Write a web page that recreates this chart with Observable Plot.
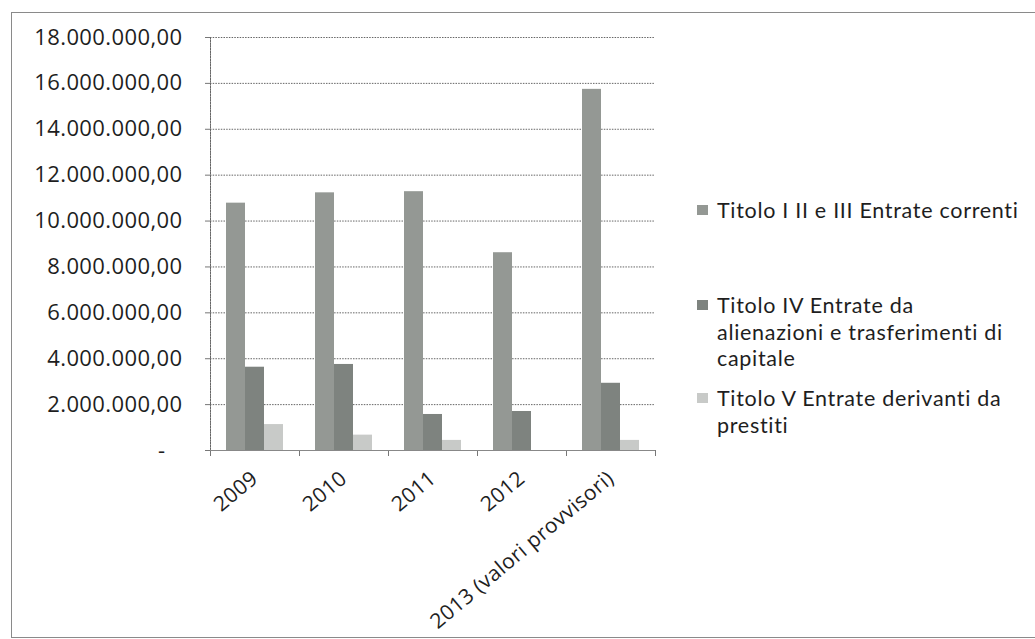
<!DOCTYPE html>
<html><head><meta charset="utf-8">
<script src="https://cdn.jsdelivr.net/npm/d3@7"></script>
<script src="https://cdn.jsdelivr.net/npm/@observablehq/plot@0.6"></script>
<style>
body{margin:0;background:#fff;font-family:"Open Sans",Lato,sans-serif;}
#frame{position:absolute;left:11px;top:12px;width:1040px;height:624px;border:1px solid #8a8a8a;}
#chart{position:absolute;left:0;top:0;}
.leg{position:absolute;left:697px;font-family:Lato,"Open Sans",sans-serif;font-size:21.5px;letter-spacing:0.7px;color:#1e1e1e;line-height:26.5px;white-space:nowrap;}
.leg .sw{position:absolute;left:0;top:8px;width:11px;height:10px;}
.leg .tx{margin-left:20px;}
</style></head><body>
<div id="frame"></div>
<div id="chart"></div>
<div id="legend"></div>
<script>
const years = ["2009", "2010", "2011", "2012", "2013 (valori provvisori)"];
const series = [
  "Titolo I II e III Entrate correnti",
  "Titolo IV Entrate da alienazioni e trasferimenti di capitale",
  "Titolo V Entrate derivanti da prestiti"
];
const entrateCorrenti    = [10780000, 11230000, 11280000, 8620000, 15740000];
const entrateAlienazioni = [3630000, 3750000, 1570000, 1700000, 2930000];
const entratePrestiti    = [1130000, 670000, 440000, 0, 440000];
const yTicks = [0, 2000000, 4000000, 6000000, 8000000, 10000000, 12000000, 14000000, 16000000, 18000000];
const colors = ["#949894", "#7e837f", "#c8cac8"];
const legendLines = [
  ["Titolo I II e III Entrate correnti"],
  ["Titolo IV Entrate da", "alienazioni e trasferimenti di", "capitale"],
  ["Titolo V Entrate derivanti da", "prestiti"]
];
const legendTops = [197, 292, 385];

const valuesBySeries = [entrateCorrenti, entrateAlienazioni, entratePrestiti];
const data = [];
years.forEach((y, i) => series.forEach((s, j) => data.push({year: y, series: s, value: valuesBySeries[j][i]})));

const loc = d3.formatLocale({decimal: ",", thousands: ".", grouping: [3], currency: ["", "€"]});
const fmt = loc.format(",.2f");
const tickFormat = d => d === 0 ? "-\u2007\u2009" : fmt(d);

const font = "'Open Sans', Lato, sans-serif";
const chart = Plot.plot({
  width: 680,
  height: 639,
  marginLeft: 210,
  marginRight: 25,
  marginTop: 37,
  marginBottom: 189,
  style: {fontFamily: font, background: "transparent", color: "#222", letterSpacing: "0.4px"},
  fx: {domain: years, padding: 0, label: null, axis: null},
  x: {domain: series, paddingInner: 0, paddingOuter: 0.78, axis: null},
  y: {domain: [0, 18000000], label: null},
  color: {domain: series, range: colors},
  marks: [
    Plot.gridY(yTicks, {stroke: "#555", strokeOpacity: 0.9, strokeDasharray: "1.5,1.2"}),
    Plot.frame({anchor: "left", facetAnchor: "left", stroke: "#666", strokeDasharray: "1.5,1.2"}),
    Plot.frame({anchor: "left", insetTop: 413, insetBottom: -5, stroke: "#777"}),
    Plot.frame({anchor: "right", facetAnchor: "right", insetTop: 413, insetBottom: -5, stroke: "#777"}),
    Plot.ruleY([0], {stroke: "#888"}),
    Plot.barY(data, {fx: "year", x: "series", y: "value", fill: "series"}),
    Plot.axisY({ticks: yTicks, tickFormat, tickSize: 5, tickPadding: 23, fontSize: 22, stroke: "#777", fill: "#1e1e1e"}),
    Plot.axisFx({anchor: "bottom", tickSize: 0, tickPadding: 25, tickRotate: -40, fontSize: 21, fill: "#1e1e1e", label: null})
  ]
});
document.getElementById("chart").appendChild(chart);

const leg = document.getElementById("legend");
legendLines.forEach((lines, i) => {
  const d = document.createElement("div");
  d.className = "leg";
  d.style.top = legendTops[i] + "px";
  const sw = document.createElement("div");
  sw.className = "sw";
  sw.style.background = colors[i];
  d.appendChild(sw);
  const tx = document.createElement("div");
  tx.className = "tx";
  tx.innerHTML = lines.join("<br>");
  d.appendChild(tx);
  leg.appendChild(d);
});
</script>
</body></html>
